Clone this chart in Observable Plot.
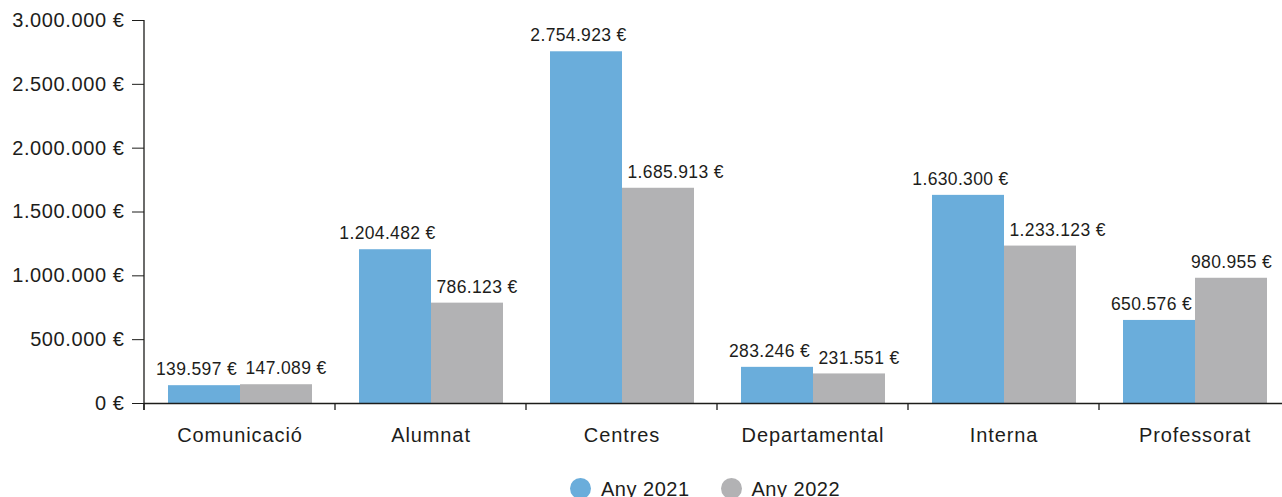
<!DOCTYPE html>
<html><head><meta charset="utf-8">
<script src="https://cdn.jsdelivr.net/npm/d3@7"></script>
<script src="https://cdn.jsdelivr.net/npm/@observablehq/plot@0.6"></script>
<style>
html,body{margin:0;padding:0;background:#fff;overflow:hidden;}
#chart{position:relative;width:1282px;height:497px;overflow:hidden;font-family:"Liberation Sans",Arial,sans-serif;color:#1d1d1b;}
.legend{position:absolute;left:570px;top:478px;display:flex;align-items:center;font-size:20px;line-height:20px;letter-spacing:0.5px;}
.legend .item{display:flex;align-items:center;}
.legend .sw{width:21px;height:21px;border-radius:50%;margin-right:10px;}
.legend .item + .item{margin-left:31px;}
</style>
</head><body>
<div id="chart"></div>
<script>
const categories = ["Comunicació","Alumnat","Centres","Departamental","Interna","Professorat"];
const years = ["Any 2021","Any 2022"];
const values2021 = [139597,1204482,2754923,283246,1630300,650576];
const values2022 = [147089,786123,1685913,231551,1233123,980955];
const yTicks = [0,500000,1000000,1500000,2000000,2500000,3000000];
const colors = ["#6aaddb","#b2b2b4"];

const locale = d3.formatLocale({decimal:",", thousands:".", grouping:[3], currency:["",""]});
const fmtNum = locale.format(",.0f");
const fmt = v => fmtNum(v) + " €";

const data = [];
categories.forEach((c,i)=>{
  data.push({category:c, year:years[0], value:values2021[i]});
  data.push({category:c, year:years[1], value:values2022[i]});
});
const lastCat = categories[categories.length-1];
const lab2021 = data.filter(d => d.year === years[0]);
const lab2022 = data.filter(d => d.year === years[1] && d.category !== lastCat);
const lab2022Last = data.filter(d => d.year === years[1] && d.category === lastCat);

const ink = "#1d1d1b";
const labelOpts = {fx:"category", x:"year", y:"value", text: d=>fmt(d.value), dy:-16, fontSize:17.5, fill: ink};
const plot = Plot.plot({
  width: 1290, height: 497,
  marginLeft: 144, marginRight: 0, marginTop: 20, marginBottom: 94,
  style: {fontFamily: '"Liberation Sans", Arial, sans-serif', color: ink, background: "transparent", maxWidth: "none", overflow: "visible"},
  fx: {domain: categories, padding: 0, label: null},
  x: {domain: years, paddingInner: 0, paddingOuter: 0.317, axis: null},
  y: {domain: [0, 3000000], axis: null},
  color: {domain: years, range: colors},
  marks: [
    Plot.barY(data, {fx:"category", x:"year", y:"value", fill:"year"}),
    Plot.text(lab2021, {...labelOpts, dx:-8}),
    Plot.text(lab2022, {...labelOpts, textAnchor:"start", dx:-31}),
    Plot.text(lab2022Last, {...labelOpts}),
    Plot.ruleY([0], {stroke: ink, strokeWidth: 1.3}),
    Plot.axisY({ticks: yTicks, tickFormat: fmt, tickSize: 12, tickPadding: 8, fontSize: 20, stroke: ink, fill: ink, label: null}),
    Plot.axisFx({anchor:"bottom", tickSize: 0, tickPadding: 24, fontSize: 20, label: null, fill: ink})
  ]
});
plot.style.position = "absolute";
plot.style.left = "0"; plot.style.top = "0";
document.getElementById("chart").appendChild(plot);

const svg = d3.select(plot);
svg.selectAll('g[aria-label="y-axis tick label"] text').style("letter-spacing", "0.6px");
svg.selectAll('g[aria-label="fx-axis tick label"] text').style("letter-spacing", "0.9px");
svg.selectAll('g[aria-label="text"] text').style("letter-spacing", "0.35px");

// axis lines and band-boundary ticks, positioned through Plot's scales
const fx = plot.scale("fx"), y = plot.scale("y");
const y0 = y.apply(0), yTop = y.apply(yTicks[yTicks.length-1]);
const x0 = fx.apply(categories[0]);
const g = svg.append("g").attr("stroke", ink).attr("stroke-width", 1.3);
g.append("line").attr("x1", x0).attr("x2", x0).attr("y1", yTop).attr("y2", y0 + 7);
categories.forEach(c => {
  const xb = fx.apply(c);
  g.append("line").attr("x1", xb).attr("x2", xb).attr("y1", y0).attr("y2", y0 + 7);
});

// legend
const legend = d3.select("#chart").append("div").attr("class","legend");
years.forEach((yr,i)=>{
  const it = legend.append("div").attr("class","item");
  it.append("div").attr("class","sw").style("background", colors[i]);
  it.append("span").text(yr);
});
</script>
</body></html>
